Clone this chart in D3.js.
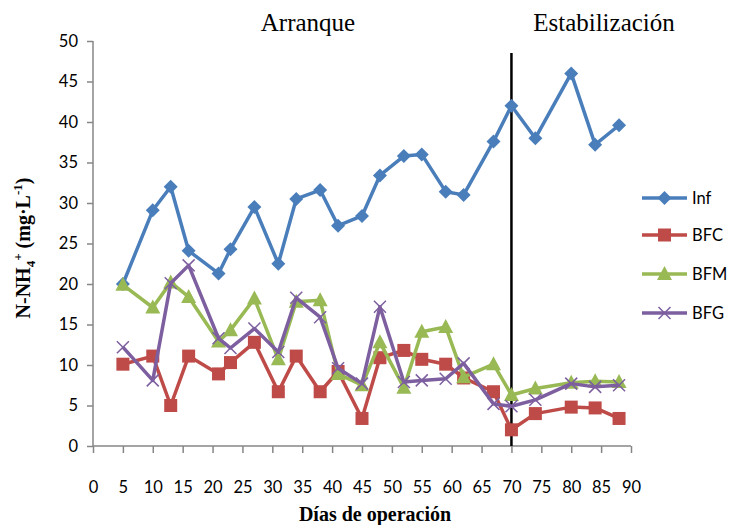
<!DOCTYPE html>
<html><head><meta charset="utf-8">
<script src="https://cdn.jsdelivr.net/npm/d3@7"></script>
<style>body{margin:0;background:#fff}</style>
</head><body><svg id="c" width="729" height="525"></svg>
<script>
const days = [5,10,13,16,21,23,27,31,34,38,41,45,48,52,55,59,62,67,70,74,80,84,88];
const inf = [20,29.1,32,24.1,21.3,24.3,29.5,22.5,30.5,31.6,27.2,28.4,33.4,35.8,36,31.4,31,37.6,42,38,46,37.2,39.6];
const bfc = [10.1,11.1,5,11.1,8.9,10.3,12.8,6.7,11.1,6.7,9.2,3.4,10.9,11.8,10.7,10.1,8.4,6.7,2,4,4.8,4.7,3.4];
const bfm = [19.9,17.1,20.2,18.4,12.9,14.3,18.2,10.7,17.8,18,8.9,7.5,12.8,7.2,14.1,14.7,8.5,10.1,6.3,7.1,7.8,8,7.9];
const bfg = [12.2,8.1,20.1,22.3,13.3,12.1,14.5,11.6,18.3,15.9,9.6,7.7,17.2,7.9,8.1,8.3,10.2,5.2,4.9,5.7,7.7,7.3,7.5];
const seriesNames = ["Inf","BFC","BFM","BFG"];
const seriesColors = ["#4A7EBB","#BE4B48","#98B954","#7D5FA0"];
const xTicks = d3.range(0,91,5);
const yTicks = d3.range(0,51,5);
const phaseLabels = ["Arranque","Estabilización"];
const phaseDay = 70;

const svg = d3.select("#c");
const x = d3.scaleLinear().domain([0,90]).range([93,631]);
const y = d3.scaleLinear().domain([0,50]).range([446,41]);
const axisColor = "#868686";

// axes
const gy = svg.append("g").attr("transform","translate(93,0)")
  .call(d3.axisLeft(y).tickValues(yTicks).tickSize(6).tickPadding(9));
const gx = svg.append("g").attr("transform","translate(0,446)")
  .call(d3.axisBottom(x).tickValues(xTicks).tickSize(7).tickPadding(28));
[gx,gy].forEach(g=>{
  g.select(".domain").attr("stroke",axisColor).attr("stroke-width",1.5);
  g.selectAll(".tick line").attr("stroke",axisColor).attr("stroke-width",1.5);
  g.selectAll("text").attr("font-family","Lato, 'Open Sans', sans-serif").attr("font-size",16.5).attr("fill","#000");
});
gx.select(".domain").attr("d","M93,0H631");
gy.select(".domain").attr("d","M0,446V41");

// vertical phase line
svg.append("line").attr("x1",x(phaseDay)).attr("x2",x(phaseDay))
  .attr("y1",53).attr("y2",y(0)).attr("stroke","#000").attr("stroke-width",2.5);

// phase labels
svg.append("text").attr("x",308).attr("y",31).attr("text-anchor","middle")
  .attr("font-family","'Liberation Serif', serif").attr("font-size",25).text(phaseLabels[0]);
svg.append("text").attr("x",604).attr("y",31).attr("text-anchor","middle")
  .attr("font-family","'Liberation Serif', serif").attr("font-size",25).text(phaseLabels[1]);

// axis titles
svg.append("text").attr("x",375).attr("y",521).attr("text-anchor","middle")
  .attr("font-family","'Liberation Serif', serif").attr("font-weight","bold").attr("font-size",20)
  .text("Días de operación");
const yt = svg.append("text").attr("transform","translate(30,248) rotate(-90)").attr("text-anchor","middle")
  .attr("font-family","'Liberation Serif', serif").attr("font-weight","bold").attr("font-size",20);
yt.append("tspan").text("N-NH");
yt.append("tspan").attr("font-size",13).attr("dy",5).text("4");
yt.append("tspan").attr("font-size",13).attr("dy",-13).text("+");
yt.append("tspan").attr("dy",8).text(" (mg·L");
yt.append("tspan").attr("font-size",13).attr("dy",-8).text("-1");
yt.append("tspan").attr("dy",8).text(")");

// markers
function marker(g, type, color, cx, cy){
  if(type===0){
    g.append("path").attr("d",`M${cx},${cy-7}L${cx+7},${cy}L${cx},${cy+7}L${cx-7},${cy}Z`).attr("fill",color);
  } else if(type===1){
    g.append("rect").attr("x",cx-6.5).attr("y",cy-6.5).attr("width",13).attr("height",13).attr("fill",color);
  } else if(type===2){
    g.append("path").attr("d",`M${cx},${cy-8}L${cx+7.5},${cy+6}L${cx-7.5},${cy+6}Z`).attr("fill",color);
  } else {
    g.append("path").attr("d",`M${cx-6},${cy-6}L${cx+6},${cy+6}M${cx+6},${cy-6}L${cx-6},${cy+6}`)
      .attr("stroke",color).attr("stroke-width",1.5);
  }
}

const allSeries = [inf,bfc,bfm,bfg];
const line = d3.line().x(d=>x(d[0])).y(d=>y(d[1]));
allSeries.forEach((vals,i)=>{
  const pts = days.map((d,k)=>[d,vals[k]]);
  const g = svg.append("g");
  g.append("path").attr("d",line(pts)).attr("fill","none").attr("stroke",seriesColors[i])
    .attr("stroke-width",3.5).attr("stroke-linejoin","round");
  pts.forEach(p=>marker(g,i,seriesColors[i],x(p[0]),y(p[1])));
});

// legend
const legY = [198,235,274,313];
seriesNames.forEach((n,i)=>{
  const g = svg.append("g");
  g.append("line").attr("x1",642).attr("x2",687).attr("y1",legY[i]).attr("y2",legY[i])
    .attr("stroke",seriesColors[i]).attr("stroke-width",3.5);
  marker(g,i,seriesColors[i],664.5,legY[i]);
  g.append("text").attr("x",692).attr("y",legY[i]).attr("dy","0.35em")
    .attr("font-family","Lato, 'Open Sans', sans-serif").attr("font-size",16.5).text(n);
});
</script></body></html>
